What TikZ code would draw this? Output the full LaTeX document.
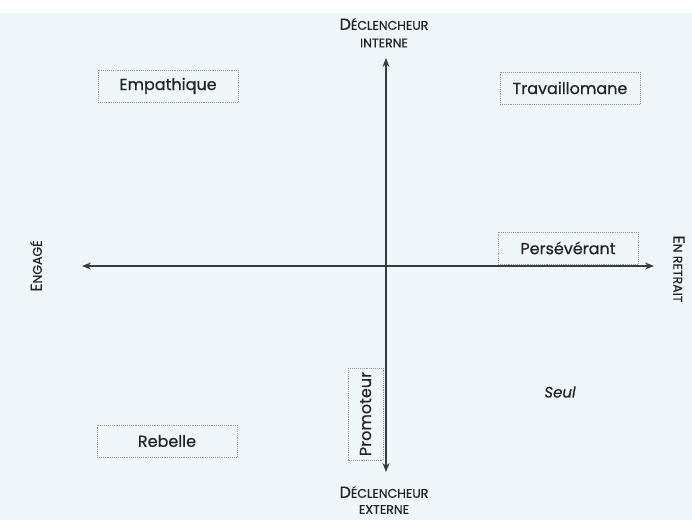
\documentclass[tikz,border=0pt]{standalone}
\usepackage{fontspec}
\setmainfont{Poppins}[FakeBold=0.5]
\usetikzlibrary{arrows.meta}
\definecolor{bgc}{HTML}{EEF8FA}
\definecolor{axc}{HTML}{3A3A44}
\definecolor{txc}{HTML}{222228}
\newcommand{\bigc}[1]{{\fontsize{16}{16}\selectfont #1}}
\newcommand{\smc}[1]{{\fontsize{12.5}{12.5}\selectfont #1}}
\tikzset{
  typebox/.style={draw=gray!80, densely dotted, line width=0.9pt, minimum width=140pt, minimum height=32pt, inner sep=0pt, text=txc, font=\fontsize{16}{16}\selectfont},
  axlab/.style={text=txc, align=center, inner sep=0pt},
  axis/.style={draw=axc, line width=1.3pt, -{Stealth[length=9pt,width=7pt]}}
}
\begin{document}
\begin{tikzpicture}[x=1pt,y=-1pt]
\useasboundingbox (0,0) rectangle (692,520);
\fill[white] (0,0) rectangle (692,13);
\fill[bgc] (0,13) rectangle (692,520);
% axes
\coordinate (c) at (386,266);
\coordinate (top) at (386,58);
\coordinate (bot) at (386,472);
\coordinate (lft) at (82,266);
\coordinate (rgt) at (654,266);
\draw[axis] (c) -- (top);
\draw[axis] (c) -- (bot);
\draw[axis] (c) -- (lft);
\draw[axis] (c) -- (rgt);
% axis labels
\node[axlab] (tl1) at (384,24) {\bigc{D}\smc{ÉCLENCHEUR}};
\node[axlab] (tl2) at (384,43) {\smc{INTERNE}};
\node[axlab] (bl1) at (384,492) {\bigc{D}\smc{ÉCLENCHEUR}};
\node[axlab] (bl2) at (384,509.5) {\smc{EXTERNE}};
\node[axlab, rotate=90] (ll) at (36,266) {\bigc{E}\smc{NGAGÉ}};
\node[axlab, rotate=-90] (rl) at (679,269) {\bigc{E}\smc{N RETRAIT}};
% boxes
\node[typebox] (emp) at (168,86) {Empathique};
\node[typebox] (trav) at (570,88) {Travaillomane};
\node[typebox] (pers) at (568,248) {Persévérant};
\node[typebox] (reb) at (167,441) {Rebelle};
\node[typebox, rotate=90, minimum width=92pt, minimum height=35pt] (prom) at (365.5,414) {Promoteur};
\node[text=txc, font=\fontsize{15}{15}\selectfont\itshape] (seul) at (560,392) {Seul};
\end{tikzpicture}
\end{document}
